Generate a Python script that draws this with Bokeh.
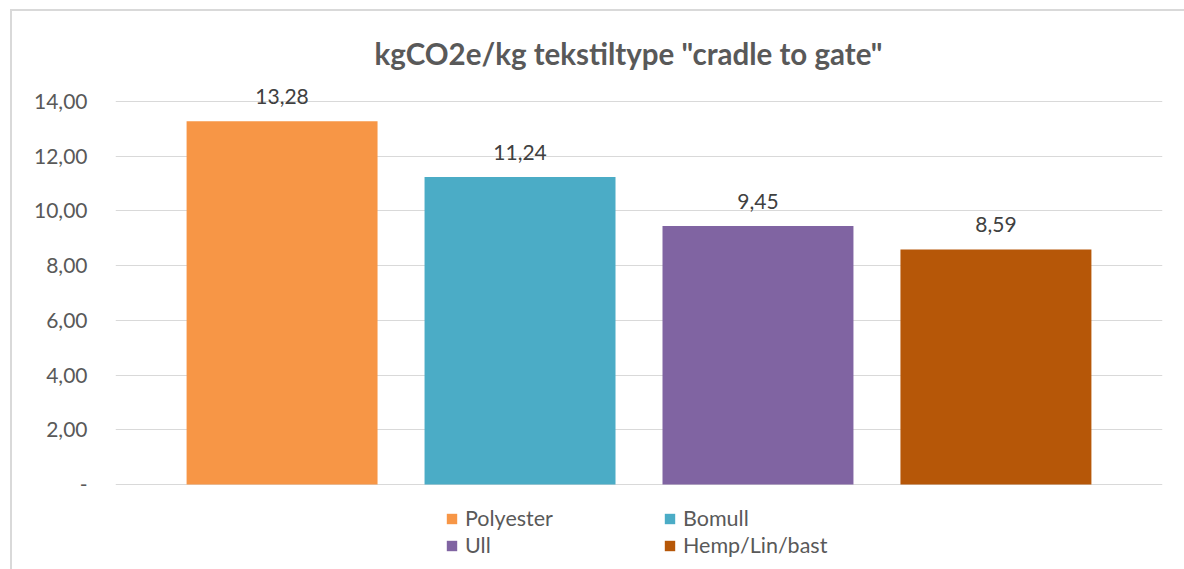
from bokeh.plotting import figure
from bokeh.models import ColumnDataSource, FactorRange, FixedTicker, LabelSet, Legend, LegendItem, Range1d
from bokeh.core.properties import value
from bokeh.embed import file_html
from bokeh.resources import INLINE

categories = ["Polyester", "Bomull", "Ull", "Hemp/Lin/bast"]
values = [13.28, 11.24, 9.45, 8.59]
colors = ["#F79646", "#4BACC6", "#8064A2", "#B65708"]
y_ticks = [0, 2, 4, 6, 8, 10, 12, 14]
y_tick_labels = ["-", "2,00", "4,00", "6,00", "8,00", "10,00", "12,00", "14,00"]
title_text = 'kgCO2e/kg tekstiltype "cradle to gate"'

labels = [f"{v:.2f}".replace(".", ",") for v in values]
src = ColumnDataSource(dict(cat=categories, val=values, color=colors, label=labels))

FONT = "Lato"
GRAY = "#595959"

# frame extended above 14 and below 0 so data labels and legend are not clipped
p = figure(width=1184, height=569,
           x_range=FactorRange(*categories, range_padding=0.1),
           y_range=Range1d(-2.961, 14.950),
           output_backend="svg", toolbar_location=None,
           min_border_left=115, min_border_right=22,
           min_border_top=75, min_border_bottom=4)

p.border_fill_color = None
p.background_fill_color = None
p.outline_line_color = None
p.styles = {"background": "linear-gradient(#d9d9d9,#d9d9d9) 10px 9px / 2px 100% no-repeat, "
                          "linear-gradient(#d9d9d9,#d9d9d9) 10px 9px / 100% 2px no-repeat, white"}

p.title.text = title_text
p.title.align = "left"
p.title.offset = 259
p.title.text_font = FONT
p.title.text_font_size = "29.5px"
p.title.text_font_style = "bold"
p.title.text_color = GRAY
p.title.standoff = 10

r = p.vbar(x="cat", top="val", width=0.8025, fill_color="color", line_color=None, source=src)

p.xaxis.visible = False
p.xgrid.grid_line_color = None
p.ygrid.grid_line_color = "#d9d9d9"
p.ygrid.grid_line_width = 1

ya = p.yaxis[0]
ya.ticker = FixedTicker(ticks=y_ticks)
ya.major_label_overrides = dict(zip(y_ticks, y_tick_labels))
ya.axis_line_color = None
ya.major_tick_line_color = None
ya.major_tick_out = 0
ya.major_tick_in = 0
ya.minor_tick_line_color = None
ya.major_label_standoff = 28
ya.major_label_text_font = FONT
ya.major_label_text_font_size = "21px"
ya.major_label_text_color = GRAY

lbl = LabelSet(x="cat", y="val", text="label", source=src, y_offset=17,
               text_align="center", text_baseline="alphabetic",
               text_font=value(FONT), text_font_size="21px", text_color="#404040")
p.add_layout(lbl)

order = [0, 2, 1, 3]  # column-major fill: col1 Polyester/Ull, col2 Bomull/Hemp
items = [LegendItem(label=categories[i], renderers=[r], index=i) for i in order]
legend = Legend(items=items, ncols=2, location=(330, 7),
                glyph_width=13, glyph_height=13, label_standoff=7,
                label_text_font=FONT, label_text_font_size="21.5px", label_text_color=GRAY,
                label_width=197, label_height=20, spacing=1,
                padding=0, margin=0, border_line_color=None, background_fill_alpha=0)
p.add_layout(legend)

open("out.html", "w").write(file_html(p, INLINE))
